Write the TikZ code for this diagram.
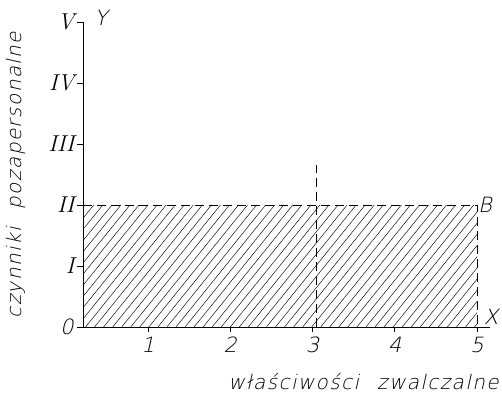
\documentclass[tikz,border=0pt]{standalone}
\usepackage{fontspec}
\newfontfamily\techfont[FakeSlant=0.22]{DejaVu Sans ExtraLight}
\newfontfamily\techspaced[FakeSlant=0.22,LetterSpace=7]{DejaVu Sans ExtraLight}
\usepackage{tikz}
\usetikzlibrary{calc}

\tikzset{
 axisline/.style={line width=0.9pt},
 hatchline/.style={line width=0.45pt},
 dashline/.style={line width=0.9pt,dash pattern=on 9pt off 5pt},
 lbl/.style={font=\fontsize{21}{24}\selectfont\techfont,inner sep=1pt},
 wide/.style={font=\fontsize{20}{24}\selectfont\techspaced,inner sep=1pt},
 roman/.style={font=\fontsize{23}{26}\selectfont\rmfamily\itshape,inner sep=2pt}
}

\begin{document}
\begin{tikzpicture}[x=82.25pt,y=61pt]
 \useasboundingbox (-0.8,-1.082) rectangle (5.304,5.361);
 \coordinate (O) at (0.21,0);
 \coordinate (Y) at (0.21,5);
 \coordinate (X) at (5.16,0);
 \coordinate (A) at (0.21,2);
 \coordinate (B) at (5,2);
 \coordinate (C) at (5,0);
 \coordinate (P) at (3.05,0);
 \coordinate (Q) at (3.05,2.66);
 % hatching
 \begin{scope}
  \clip (O) rectangle (B);
  \foreach \a in {-1.3,-1.19,...,5.1}
   \draw[hatchline] (\a,0)--(\a+1.2,2);
 \end{scope}
 \draw[dashline] (A)--(B)--(C);
 \draw[dashline] (P)--(Q);
 \draw[axisline] (X)--(O)--(Y);
 % ticks
 \draw[axisline] (O)--(0.135,0) node[lbl,left=2pt] (r0) {0};
 \foreach \k/\r in {1/I,2/II,3/III,4/IV,5/V}
  \draw[axisline] (0.21,\k)--(0.135,\k) node[roman,left] (r\k) {\r};
 \foreach \k in {1,...,5}
  \draw[axisline] (\k,0)--(\k,-0.09) node[lbl,below=3pt] (d\k) {\k};
 \node[lbl] (ylab) at (0.43,5.07) {Y};
 \node[lbl] (xlab) at (5.17,0.17) {X};
 \node[lbl,right] (blab) at (B) {B};
 \node[wide] (xt) at (3.62,-0.89) {właściwości\hspace{0.9em}zwalczalne};
 \node[wide,rotate=90] (yt) at (-0.61,2.49) {czynniki\hspace{0.9em}pozapersonalne};
\end{tikzpicture}
\end{document}
